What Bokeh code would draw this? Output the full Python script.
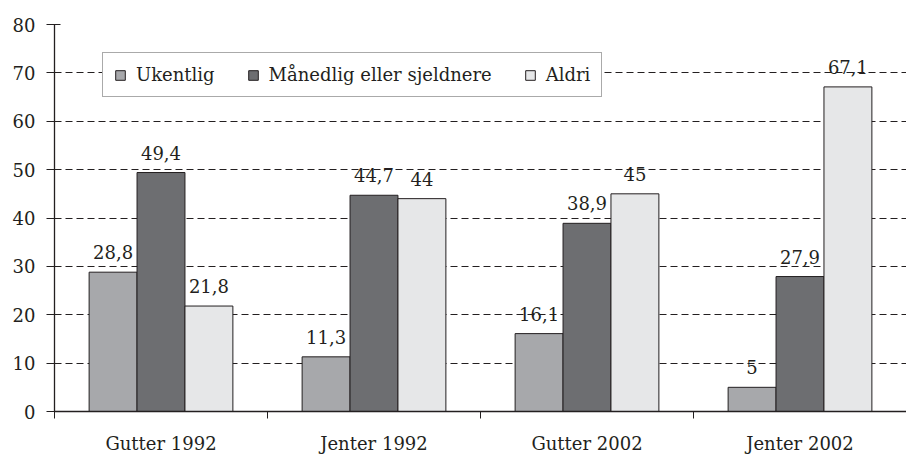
from bokeh.plotting import figure
from bokeh.models import FixedTicker, Range1d, ColumnDataSource
from bokeh.core.properties import value
from bokeh.embed import file_html
from bokeh.resources import INLINE

categories = ["Gutter 1992", "Jenter 1992", "Gutter 2002", "Jenter 2002"]
series_names = ["Ukentlig", "Månedlig eller sjeldnere", "Aldri"]
ukentlig = [28.8, 11.3, 16.1, 5]
maanedlig = [49.4, 44.7, 38.9, 27.9]
aldri = [21.8, 44, 45, 67.1]
y_ticks = [0, 10, 20, 30, 40, 50, 60, 70, 80]

colors = ["#a7a8ab", "#6d6e71", "#e6e7e8"]
FONT = "DejaVu Serif"
TXT = "#231f20"

p = figure(frame_width=852, frame_height=387, min_border_left=54, min_border_top=24,
           min_border_right=0, min_border_bottom=40,
           x_range=Range1d(0, 852 / 213), y_range=Range1d(0, 80),
           output_backend="svg", toolbar_location=None)
p.outline_line_color = None

bw = 0.225
offsets = [-bw, 0, bw]
for vals, name, col, off in zip([ukentlig, maanedlig, aldri], series_names, colors, offsets):
    xs = [i + 0.5 + off for i in range(len(categories))]
    src = ColumnDataSource(dict(x=xs, top=vals,
                                lab=[("%g" % v).replace(".", ",") for v in vals]))
    p.vbar(x="x", top="top", width=bw, bottom=0, source=src, fill_color=col,
           line_color="#231f20", line_width=1, legend_label=name)
    p.text(x="x", y="top", text="lab", source=src, text_align="center",
           text_baseline="alphabetic", y_offset=-20, text_font=value(FONT),
           text_font_size="18px", text_color=TXT)

# y axis
p.yaxis.ticker = FixedTicker(ticks=y_ticks, minor_ticks=[])
p.yaxis.major_tick_in = 6
p.yaxis.major_tick_out = 8
p.yaxis.major_label_standoff = 11
p.yaxis.axis_line_color = TXT
p.yaxis.major_tick_line_color = TXT
p.yaxis.axis_line_width = 1.3
p.yaxis.major_label_text_font = FONT
p.yaxis.major_label_text_font_size = "18px"
p.yaxis.major_label_text_color = TXT

# x axis
p.xaxis.ticker = FixedTicker(ticks=[i + 0.5 for i in range(len(categories))],
                             minor_ticks=list(range(len(categories) + 1)))
p.xaxis.major_label_overrides = {i + 0.5: c for i, c in enumerate(categories)}
p.xaxis.major_tick_line_color = None
p.xaxis.major_tick_in = 0
p.xaxis.major_tick_out = 0
p.xaxis.minor_tick_in = 0
p.xaxis.minor_tick_out = 7
p.xaxis.minor_tick_line_color = TXT
p.xaxis.axis_line_color = TXT
p.xaxis.axis_line_width = 1.3
p.xaxis.major_label_standoff = 14
p.xaxis.major_label_text_font = FONT
p.xaxis.major_label_text_font_size = "18px"
p.xaxis.major_label_text_color = TXT

p.xgrid.grid_line_color = None
p.ygrid.ticker = FixedTicker(ticks=y_ticks[1:])
p.ygrid.grid_line_color = "#231f20"
p.ygrid.grid_line_dash = "7 4"
p.ygrid.grid_line_width = 1

lg = p.legend[0]
lg.orientation = "horizontal"
lg.location = (48, 314)
lg.margin = 0
lg.padding = 11
lg.spacing = 32
lg.label_standoff = 10
lg.glyph_width = 12
lg.glyph_height = 12
lg.label_text_font = FONT
lg.label_text_font_size = "18px"
lg.label_text_color = TXT
lg.border_line_color = "#555555"
lg.border_line_width = 1.5
lg.background_fill_alpha = 1

open("out.html", "w").write(file_html(p, INLINE))
